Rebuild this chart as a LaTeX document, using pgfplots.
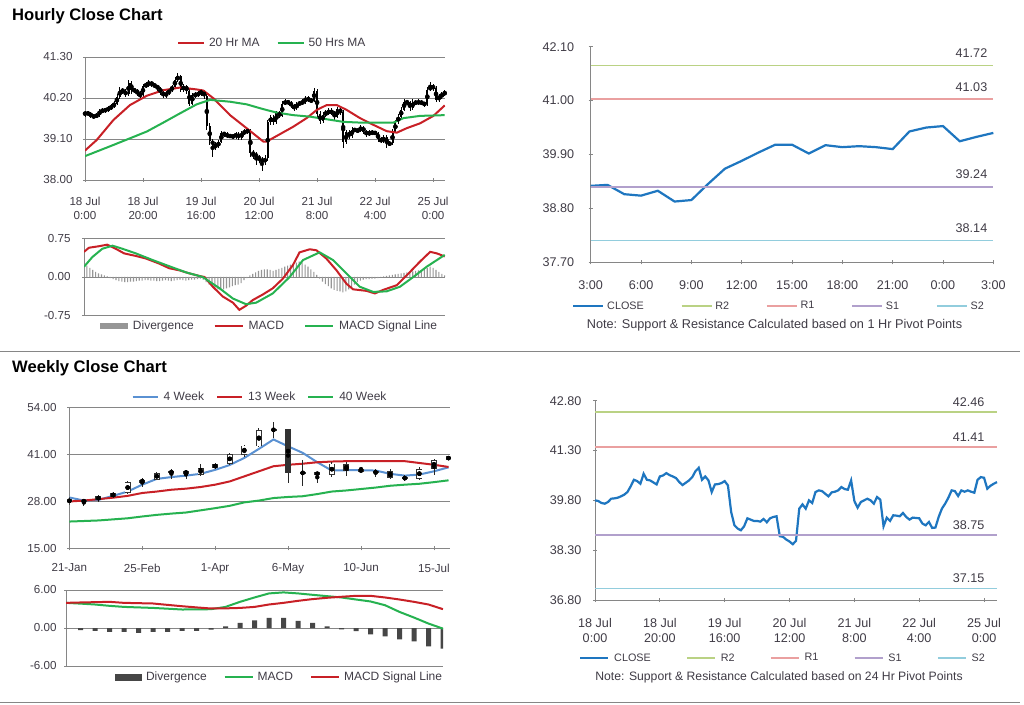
\documentclass[border=0pt]{standalone}
\usepackage{fontspec}
\setmainfont{Liberation Sans}
\usepackage{pgfplots}
\usepackage{pgfplotstable}
\pgfplotsset{compat=1.18}

\definecolor{axgray}{RGB}{134,134,134}
\definecolor{lblgray}{RGB}{64,60,70}
\definecolor{mared}{RGB}{200,32,38}
\definecolor{magreen}{RGB}{38,178,80}
\definecolor{closeblue}{RGB}{30,118,192}
\definecolor{rtwo}{RGB}{186,210,132}
\definecolor{rone}{RGB}{234,160,160}
\definecolor{sone}{RGB}{177,160,204}
\definecolor{stwo}{RGB}{146,205,221}
\definecolor{wkblue}{RGB}{90,145,210}
\definecolor{divgray}{RGB}{150,150,150}
\definecolor{divdark}{RGB}{70,70,70}
\definecolor{candark}{RGB}{50,50,50}

\newcommand{\labL}{\fontsize{11.6}{14}\selectfont}
\newcommand{\labR}{\fontsize{12.6}{15}\selectfont}
\newcommand{\legL}{\fontsize{12}{14}\selectfont}
\newcommand{\legR}{\fontsize{10.8}{13}\selectfont}

\pgfplotsset{
  base/.style={scale only axis, anchor=south west, enlargelimits=false,
    axis line style={axgray,-,line width=0.7pt},
    tick style={axgray,line width=0.7pt}, major tick length=4pt, tick align=outside,
    tick label style={font=\labL, text=lblgray},
    grid style={axgray,line width=0.7pt},
    legend style={draw=none, fill=none, font=\legL, text=lblgray, inner sep=0pt, outer sep=0pt,
      nodes={inner sep=0pt, outer sep=0pt}, legend cell align=left},
    legend columns=-1},
}

% hourly candles: i open high low close
\pgfplotstableread{
i o h l c
0 39.76 39.86 39.70 39.80
1 39.80 39.85 39.72 39.78
2 39.78 39.82 39.66 39.72
3 39.72 39.76 39.64 39.70
4 39.70 39.80 39.65 39.75
5 39.75 39.90 39.70 39.85
6 39.85 39.92 39.80 39.86
7 39.86 39.94 39.81 39.88
8 39.88 39.98 39.83 39.92
9 39.92 40.03 39.87 39.97
10 39.97 40.12 39.92 40.05
11 40.05 40.30 40.00 40.22
12 40.22 40.50 40.17 40.42
13 40.42 40.47 40.30 40.38
14 40.38 40.44 40.22 40.30
15 40.30 40.68 40.25 40.60
16 40.60 40.65 40.30 40.42
17 40.42 40.48 40.33 40.40
18 40.40 40.45 40.25 40.34
19 40.34 40.40 40.15 40.28
20 40.28 40.58 40.24 40.52
21 40.52 40.62 40.47 40.55
22 40.55 40.68 40.50 40.62
23 40.62 40.66 40.50 40.56
24 40.56 40.60 40.46 40.52
25 40.52 40.56 40.40 40.47
26 40.47 40.50 40.28 40.35
27 40.35 40.40 40.20 40.26
28 40.26 40.38 40.21 40.33
29 40.33 40.46 40.28 40.40
30 40.40 40.56 40.36 40.50
31 40.50 40.75 40.46 40.68
32 40.68 40.86 40.62 40.78
33 40.78 40.82 40.35 40.42
34 40.42 40.58 40.36 40.52
35 40.52 40.56 40.32 40.40
36 40.40 40.44 39.98 40.05
37 40.05 40.34 40.00 40.28
38 40.28 40.35 40.20 40.29
39 40.29 40.38 40.22 40.32
40 40.32 40.44 40.26 40.38
41 40.38 40.42 40.18 40.25
42 40.25 40.30 39.35 39.45
43 39.45 39.52 38.95 39.05
44 39.05 39.10 38.62 38.95
45 38.95 39.02 38.80 38.90
46 38.90 39.08 38.85 39.02
47 39.02 39.32 38.98 39.26
48 39.26 39.30 39.15 39.22
49 39.22 39.28 39.12 39.18
50 39.18 39.24 39.12 39.18
51 39.18 39.23 39.10 39.16
52 39.16 39.30 39.10 39.24
53 39.24 39.28 39.08 39.14
54 39.14 39.32 39.08 39.26
55 39.26 39.36 39.20 39.30
56 39.30 39.38 39.24 39.32
57 39.32 39.36 38.62 38.72
58 38.72 38.80 38.55 38.70
59 38.70 38.76 38.40 38.62
60 38.62 38.68 38.45 38.56
61 38.56 38.62 38.25 38.48
62 38.48 38.66 38.40 38.58
63 38.58 39.62 38.52 39.55
64 39.55 39.75 39.48 39.68
65 39.68 39.74 39.48 39.55
66 39.55 39.86 39.50 39.80
67 39.80 39.86 39.65 39.72
68 39.72 40.12 39.68 40.05
69 40.05 40.16 40.00 40.10
70 40.10 40.15 40.02 40.08
71 40.08 40.12 39.94 40.00
72 40.00 40.05 39.86 39.92
73 39.92 40.10 39.88 40.04
74 40.04 40.12 39.99 40.06
75 40.06 40.16 40.01 40.10
76 40.10 40.26 40.05 40.20
77 40.20 40.25 40.08 40.14
78 40.14 40.20 40.06 40.12
79 40.12 40.46 40.08 40.40
80 40.40 40.44 39.70 39.78
81 39.78 39.84 39.50 39.58
82 39.58 39.82 39.52 39.75
83 39.75 39.88 39.70 39.80
84 39.80 39.92 39.74 39.85
85 39.85 39.92 39.74 39.80
86 39.80 39.85 39.62 39.70
87 39.70 39.96 39.65 39.90
88 39.90 39.95 39.75 39.82
89 39.82 39.88 38.85 39.02
90 39.02 39.34 38.96 39.28
91 39.28 39.33 39.10 39.18
92 39.18 39.42 39.12 39.35
93 39.35 39.40 39.28 39.34
94 39.34 39.38 39.26 39.32
95 39.32 39.48 39.28 39.42
96 39.42 39.46 39.24 39.30
97 39.30 39.35 39.16 39.22
98 39.22 39.34 39.17 39.28
99 39.28 39.33 39.20 39.27
100 39.27 39.32 39.20 39.26
101 39.26 39.30 39.03 39.10
102 39.10 39.15 38.98 39.05
103 39.05 39.20 38.98 39.15
104 39.15 39.20 38.85 38.97
105 38.97 39.05 38.90 38.98
106 38.98 39.36 38.93 39.30
107 39.30 39.62 39.25 39.55
108 39.55 39.78 39.50 39.70
109 39.70 39.95 39.64 39.88
110 39.88 40.16 39.84 40.10
111 40.10 40.15 40.00 40.08
112 40.08 40.12 39.86 39.93
113 39.93 40.16 39.88 40.10
114 40.10 40.14 40.00 40.06
115 40.06 40.16 40.01 40.10
116 40.10 40.14 40.00 40.06
117 40.06 40.10 39.97 40.03
118 40.03 40.50 39.98 40.42
119 40.42 40.62 40.38 40.50
120 40.50 40.58 40.40 40.48
121 40.48 40.52 40.08 40.15
122 40.15 40.32 40.10 40.24
123 40.24 40.36 40.18 40.30
124 40.30 40.42 40.25 40.35
}\hourly

\pgfplotstableread{
x v
0 38.79
4 39.07
9.8 39.61
15.5 40.01
21.3 40.26
27 40.41
32.8 40.48
38.5 40.43
40.8 40.40
44.3 40.19
50 39.74
55.7 39.39
61.5 39.03
62.6 39.03
67.2 39.23
71.8 39.43
76.4 39.66
79.9 39.88
83.3 40.01
86.8 40.01
90.2 39.88
94.8 39.66
99.4 39.48
104 39.31
107.5 39.27
110.9 39.39
115.5 39.52
120.1 39.72
124 40.00
}\hmaA

\pgfplotstableread{
x v
0 38.64
9.8 38.94
21.3 39.30
27 39.54
32.8 39.79
38.5 40.03
43.1 40.15
50 40.10
55.7 40.03
61.5 39.90
66 39.81
71.8 39.74
77.5 39.70
83.3 39.63
89 39.56
94.8 39.54
100.5 39.54
106.3 39.54
109.8 39.66
115.5 39.72
124 39.74
}\hmaB

\pgfplotstableread{
x v
0 0.49
1.7 0.57
5.2 0.60
8 0.63
10.9 0.55
13.8 0.46
17.8 0.41
21.3 0.36
25.9 0.26
29.3 0.17
32.8 0.13
36.2 0.07
39.7 0.02
41.4 0.00
44.3 -0.19
47.7 -0.38
51.2 -0.50
53.4 -0.64
55.7 -0.56
58 -0.45
61.5 -0.34
64.9 -0.22
68.4 -0.03
71.8 0.23
74.1 0.48
77.6 0.54
79.9 0.52
83.3 0.36
86.8 0.13
90.2 -0.13
92.5 -0.24
97.1 -0.27
100 -0.32
102.9 -0.25
107.5 -0.16
112.1 0.10
115.5 0.30
119 0.49
121.3 0.46
124 0.40
}\hmacd

\pgfplotstableread{
x v
0 0.20
2.9 0.39
6.3 0.55
9.8 0.61
13.2 0.55
17.8 0.46
23.6 0.33
29.3 0.21
35.1 0.09
40.8 0.00
46.6 -0.22
51.2 -0.42
55.7 -0.53
59.2 -0.50
64.9 -0.32
70.7 0.00
75.3 0.33
81 0.48
85.6 0.33
90.2 0.07
94.8 -0.19
99.4 -0.29
104 -0.28
108.6 -0.19
113.2 0.00
117.8 0.20
124 0.43
}\hsig

\pgfplotstableread[row sep=\\]{
i d\\ 0 0.25\\ 1 0.22\\ 2 0.18\\ 3 0.14\\ 4 0.10\\ 5 0.07\\ 6 0.05\\ 7 0.03\\ 8 0.01\\ 9 -0.02\\
10 -0.04\\ 11 -0.06\\ 12 -0.08\\ 13 -0.09\\ 14 -0.10\\ 15 -0.10\\ 16 -0.09\\ 17 -0.09\\ 18 -0.08\\ 19 -0.07\\
20 -0.07\\ 21 -0.06\\ 22 -0.06\\ 23 -0.07\\ 24 -0.07\\ 25 -0.08\\ 26 -0.08\\ 27 -0.07\\ 28 -0.06\\ 29 -0.07\\
30 -0.08\\ 31 -0.07\\ 32 -0.06\\ 33 -0.05\\ 34 -0.06\\ 35 -0.07\\ 36 -0.06\\ 37 -0.05\\ 38 -0.05\\ 39 -0.04\\
40 -0.03\\ 41 -0.05\\ 42 -0.10\\ 43 -0.15\\ 44 -0.19\\ 45 -0.22\\ 46 -0.24\\ 47 -0.25\\ 48 -0.24\\ 49 -0.22\\
50 -0.20\\ 51 -0.18\\ 52 -0.16\\ 53 -0.15\\ 54 -0.12\\ 55 -0.06\\ 56 -0.02\\ 57 0.03\\ 58 0.06\\ 59 0.09\\
60 0.12\\ 61 0.14\\ 62 0.15\\ 63 0.15\\ 64 0.14\\ 65 0.12\\ 66 0.14\\ 67 0.16\\ 68 0.18\\ 69 0.20\\
70 0.22\\ 71 0.24\\ 72 0.26\\ 73 0.28\\ 74 0.30\\ 75 0.28\\ 76 0.24\\ 77 0.20\\ 78 0.15\\ 79 0.10\\
80 0.04\\ 81 -0.03\\ 82 -0.09\\ 83 -0.14\\ 84 -0.18\\ 85 -0.22\\ 86 -0.25\\ 87 -0.27\\ 88 -0.28\\ 89 -0.30\\
90 -0.28\\ 91 -0.24\\ 92 -0.20\\ 93 -0.15\\ 94 -0.10\\ 95 -0.07\\ 96 -0.05\\ 97 -0.04\\ 98 -0.04\\ 99 -0.03\\
100 -0.03\\ 101 -0.02\\ 102 0.00\\ 103 0.01\\ 104 0.02\\ 105 0.03\\ 106 0.04\\ 107 0.05\\ 108 0.06\\ 109 0.07\\
110 0.08\\ 111 0.09\\ 112 0.10\\ 113 0.11\\ 114 0.12\\ 115 0.13\\ 116 0.14\\ 117 0.16\\ 118 0.18\\ 119 0.20\\
120 0.18\\ 121 0.14\\ 122 0.10\\ 123 0.06\\ 124 0.03\\
}\hdiv

\pgfplotstableread{
w ma4 ma13 ma40
0 29.06 27.95 22.40
1 28.20 28.20 22.55
2 28.40 28.60 22.70
3 29.50 29.00 23.00
4 30.70 29.50 23.30
5 32.60 30.30 23.80
6 34.20 30.70 24.25
7 34.70 31.20 24.60
8 35.10 31.50 24.90
9 35.60 31.95 25.50
10 36.70 32.60 26.10
11 38.05 33.50 26.75
12 40.00 34.90 27.70
13 42.50 36.30 28.20
14 45.10 37.70 28.90
15 43.20 38.10 29.20
16 41.40 38.40 29.40
17 38.80 38.80 30.00
18 36.50 39.00 30.70
19 36.60 39.10 31.00
20 36.60 39.10 31.40
21 36.50 39.10 31.80
22 35.60 39.10 32.30
23 35.10 39.10 32.60
24 35.40 38.60 32.85
25 36.30 38.10 33.30
26 37.40 37.50 33.80
}\weekly

% weekly candles: week, low, high, body low, body high, up(1)/down(0)
\pgfplotstableread{
w lo hi bl bh up
0 27.1 29.1 27.7 28.6 0
1 26.75 28.6 27.7 28.4 1
2 27.9 29.8 28.4 29.35 1
3 29.0 30.5 29.2 30.3 1
4 30.1 33.5 30.3 33.3 1
5 32.0 34.4 33.2 34.0 1
6 33.8 36.1 34.0 35.8 1
7 34.3 37.0 35.9 36.3 0
8 34.3 36.6 35.7 36.3 0
9 35.1 38.2 35.3 37.2 1
10 36.8 38.6 37.2 38.3 1
11 38.1 41.4 38.4 41.1 1
12 40.2 43.7 40.9 43.4 1
13 42.9 48.3 43.2 47.6 1
14 45.6 50.0 47.4 48.1 1
15 33.2 48.1 35.8 48.0 0
16 32.3 39.5 35.6 36.1 0
17 33.2 36.1 35.4 35.9 0
18 34.8 38.9 35.4 38.4 1
19 35.0 39.0 36.5 38.3 0
20 36.2 37.6 36.4 36.6 0
21 34.8 37.0 35.8 36.3 0
22 34.2 37.0 34.4 36.3 0
23 33.6 35.2 34.1 34.7 0
24 34.0 37.4 34.2 37.0 1
25 35.4 39.7 37.0 39.5 1
26 39.4 40.5 39.5 40.4 1
}\wcandle

\pgfplotstableread{
k m s d
0 3.97 3.97 0
1 3.85 4.03 -0.35
2 3.71 4.08 -0.45
3 3.50 4.13 -0.60
4 3.33 3.97 -0.60
5 3.25 3.92 -0.75
6 3.17 3.87 -0.60
7 3.05 3.65 -0.60
8 2.92 3.44 -0.45
9 2.93 3.25 -0.45
10 2.97 3.08 -0.25
11 3.33 3.10 0.25
12 4.13 3.17 0.80
13 4.82 3.33 1.22
14 5.46 3.71 1.59
15 5.62 3.97 1.59
16 5.46 4.29 1.11
17 5.24 4.56 0.80
18 5.03 4.77 0.26
19 4.82 4.93 -0.20
20 4.50 5.08 -0.50
21 4.19 5.08 -1.00
22 3.60 4.82 -1.32
23 2.54 4.50 -1.80
24 1.65 4.13 -2.10
25 0.70 3.71 -2.90
26 -0.10 2.97 -3.27
}\wmacd

\begin{document}
\begin{tikzpicture}[x=1pt,y=1pt]
\fill[white] (0pt,0pt) rectangle (1024pt,704pt);
\path[use as bounding box] (0pt,0pt) rectangle (1024pt,704pt);

% ---------- Panel A: hourly candles ----------
\begin{axis}[base, at={(85pt,524pt)}, width=360pt, height=123pt,
  xmin=0, xmax=124.1, ymin=38, ymax=41.3,
  axis lines=left, axis line style={-},
  ytick={38,39.1,40.2,41.3}, yticklabels={38.00,39.10,40.20,41.30},
  yticklabel style={xshift=-7pt},
  xtick={0,20,...,120},
  xticklabels={{18 Jul\\0:00},{18 Jul\\20:00},{19 Jul\\16:00},{20 Jul\\12:00},{21 Jul\\8:00},{22 Jul\\4:00},{25 Jul\\0:00}},
  xticklabel style={align=center, yshift=-11.5pt},
  ymajorgrids,
  legend style={at={(0.2556,1.1138)}, anchor=west, column sep=4pt,
    /tikz/every even column/.append style={column sep=17pt}},
  legend image code/.code={\draw[#1] (0pt,0pt) -- (26pt,0pt);},
]
\addplot[only marks, mark=none, forget plot, error bars/.cd, y dir=both, y explicit,
  error mark=none, error bar style={draw=black, line width=0.7pt}]
  table[x=i, y expr={(\thisrow{h}+\thisrow{l})/2}, y error expr={(\thisrow{h}-\thisrow{l})/2}] {\hourly};
\addplot[only marks, mark=none, forget plot, error bars/.cd, y dir=both, y explicit,
  error mark=none, error bar style={draw=black, line width=2pt}]
  table[x=i, y expr={(\thisrow{o}+\thisrow{c})/2}, y error expr={abs(\thisrow{o}-\thisrow{c})/2}] {\hourly};
\addplot[mared, line width=2pt] table[x=x,y=v] {\hmaA};
\addlegendentry{20 Hr MA}
\addplot[magreen, line width=2pt] table[x=x,y=v] {\hmaB};
\addlegendentry{50 Hrs MA}
\end{axis}

% ---------- Panel A2: hourly MACD ----------
\begin{axis}[base, at={(84pt,388.5pt)}, width=361pt, height=77pt,
  xmin=0, xmax=124.1, ymin=-0.75, ymax=0.75,
  axis y line=left, axis x line=none, axis line style={-},
  ytick={-0.75,0,0.75}, yticklabels={-0.75,0.00,0.75},
  yticklabel style={xshift=-8pt},
  xtick=\empty, ymajorgrids,
  legend style={at={(0.0443,-0.136)}, anchor=west, column sep=5pt,
    /tikz/every even column/.append style={column sep=20pt}},
  legend image code/.code={\draw[#1] (0pt,0pt) -- (28pt,0pt);},
]
\addplot[ybar, bar width=1.1pt, fill=divgray, draw=none,
  legend image code/.code={\fill[divgray] (0pt,-3pt) rectangle (28pt,3pt);}]
  table[x=i,y=d] {\hdiv};
\addlegendentry{Divergence}
\addplot[mared, line width=2pt] table[x=x,y=v] {\hmacd};
\addlegendentry{MACD}
\addplot[magreen, line width=2pt] table[x=x,y=v] {\hsig};
\addlegendentry{MACD Signal Line}
\end{axis}

% ---------- Panel B: 1 Hr pivot ----------
\begin{axis}[base, at={(590.7pt,441.7pt)}, width=402.6pt, height=215.6pt,
  xmin=0, xmax=24, ymin=37.7, ymax=42.1, clip=false,
  axis lines=left, axis line style={-},
  tick label style={font=\labR},
  xtick={0,3,...,24}, xticklabels={3:00,6:00,9:00,12:00,15:00,18:00,21:00,0:00,3:00},
  xticklabel style={yshift=-13pt},
  ytick={37.7,38.8,39.9,41,42.1}, yticklabels={37.70,38.80,39.90,41.00,42.10},
  yticklabel style={xshift=-11pt},
  legend style={font=\legR, at={(-0.0464,-0.2027)}, anchor=west, column sep=3pt,
    /tikz/every even column/.append style={column sep=37pt}},
  legend image code/.code={\draw[#1] (0pt,0pt) -- (30pt,0pt);},
]
\addplot[closeblue, line width=2.2pt] coordinates {
(0,39.26) (1,39.28) (2,39.09) (3,39.06) (4,39.16) (5,38.94) (6,38.97) (7,39.30)
(8,39.61) (9,39.77) (10,39.94) (11,40.10) (12,40.10) (13,39.92) (14,40.09) (15,40.05)
(16,40.07) (17,40.05) (18,40.01) (19,40.37) (20,40.45) (21,40.48) (22,40.17) (23,40.26) (24,40.34)};
\addlegendentry{CLOSE}
\addplot[rtwo, line width=1.5pt] coordinates {(0,41.72) (24,41.72)};
\addlegendentry{R2}
\addplot[rone, line width=1.5pt] coordinates {(0,41.03) (24,41.03)};
\addlegendentry{R1}
\addplot[sone, line width=1.5pt] coordinates {(0,39.24) (24,39.24)};
\addlegendentry{S1}
\addplot[stwo, line width=1.5pt] coordinates {(0,38.14) (24,38.14)};
\addlegendentry{S2}
\node[font=\labR, text=lblgray, anchor=base east, yshift=8pt] at (axis cs:23.85,41.72) {41.72};
\node[font=\labR, text=lblgray, anchor=base east, yshift=8pt] at (axis cs:23.85,41.03) {41.03};
\node[font=\labR, text=lblgray, anchor=base east, yshift=8pt] at (axis cs:23.85,39.24) {39.24};
\node[font=\labR, text=lblgray, anchor=base east, yshift=8pt] at (axis cs:23.85,38.14) {38.14};
\end{axis}

% ---------- Panel C: weekly candles ----------
\begin{axis}[base, at={(69.3pt,155.7pt)}, width=380.7pt, height=141pt,
  xmin=0, xmax=26.1, ymin=15, ymax=54,
  axis lines=left, axis line style={-},
  xtick={0,5,...,25}, xticklabels={21-Jan,25-Feb,1-Apr,6-May,10-Jun,15-Jul},
  xticklabel style={yshift=-10pt},
  ytick={15,28,41,54}, yticklabels={15.00,28.00,41.00,54.00},
  yticklabel style={xshift=-7.3pt},
  ymajorgrids,
  legend style={at={(0.1639,1.075)}, anchor=west, column sep=5pt,
    /tikz/every even column/.append style={column sep=12pt}},
  legend image code/.code={\draw[#1] (0pt,0pt) -- (25pt,0pt);},
]
\addplot[wkblue, line width=2pt] table[x=w,y=ma4] {\weekly};
\addlegendentry{4 Week}
\addplot[mared, line width=2pt] table[x=w,y=ma13] {\weekly};
\addlegendentry{13 Week}
\addplot[magreen, line width=2pt] table[x=w,y=ma40] {\weekly};
\addlegendentry{40 Week}
% wicks
\addplot[only marks, mark=none, forget plot, error bars/.cd, y dir=both, y explicit,
  error mark=none, error bar style={draw=black!85, line width=0.9pt}]
  table[x=w, y expr={(\thisrow{lo}+\thisrow{hi})/2}, y error expr={(\thisrow{hi}-\thisrow{lo})/2}] {\wcandle};
% bodies
\addplot[only marks, mark=none, forget plot, error bars/.cd, y dir=both, y explicit,
  error mark=none, error bar style={draw=candark, line width=6pt}]
  table[x=w, y expr={(\thisrow{bl}+\thisrow{bh})/2}, y error expr={max((\thisrow{bh}-\thisrow{bl})/2,0.35)}] {\wcandle};
% hollow interiors of rising candles
\addplot[only marks, mark=none, forget plot, error bars/.cd, y dir=both, y explicit,
  error mark=none, error bar style={draw=white, line width=4.4pt}]
  table[x=w, y expr={(\thisrow{bl}+\thisrow{bh})/2}, y error expr={\thisrow{up}*max((\thisrow{bh}-\thisrow{bl})/2-0.22,0)}] {\wcandle};
\end{axis}

% ---------- Panel C2: weekly MACD ----------
\begin{axis}[base, at={(66pt,38pt)}, width=377pt, height=76pt,
  xmin=0, xmax=26, ymin=-6, ymax=6,
  axis y line=left, axis x line=none, axis line style={-},
  ytick={-6,0,6}, yticklabels={-6.00,0.00,6.00},
  yticklabel style={xshift=-4pt},
  xtick=\empty, ymajorgrids,
  legend style={at={(0.13,-0.145)}, anchor=west, column sep=4pt,
    /tikz/every even column/.append style={column sep=17pt}},
  legend image code/.code={\draw[#1] (0pt,0pt) -- (28pt,0pt);},
]
\addplot[ybar, bar width=5pt, fill=divdark, draw=none,
  legend image code/.code={\fill[divdark] (0pt,-3.5pt) rectangle (27pt,3.5pt);}]
  table[x=k,y=d] {\wmacd};
\addlegendentry{Divergence}
\addplot[magreen, line width=2pt] table[x=k,y=m] {\wmacd};
\addlegendentry{MACD}
\addplot[mared, line width=2pt] table[x=k,y=s] {\wmacd};
\addlegendentry{MACD Signal Line}
\end{axis}

% ---------- Panel D: 24 Hr pivot ----------
\begin{axis}[base, at={(595pt,104pt)}, width=402pt, height=199.3pt,
  xmin=0, xmax=124, ymin=36.8, ymax=42.8, clip=false,
  axis lines=left, axis line style={-},
  tick label style={font=\labR},
  xtick={0,20,...,120},
  xticklabels={{18 Jul\\0:00},{18 Jul\\20:00},{19 Jul\\16:00},{20 Jul\\12:00},{21 Jul\\8:00},{22 Jul\\4:00},{25 Jul\\0:00}},
  xticklabel style={align=center, yshift=-13pt},
  ytick={36.8,38.3,39.8,41.3,42.8}, yticklabels={36.80,38.30,39.80,41.30,42.80},
  yticklabel style={xshift=-8pt},
  legend style={font=\legR, at={(-0.0398,-0.291)}, anchor=west, column sep=5pt,
    /tikz/every even column/.append style={column sep=35.5pt}},
  legend image code/.code={\draw[#1] (0pt,0pt) -- (28pt,0pt);},
]
\addplot[closeblue, line width=2.2pt] table[x=i,y=c] {\hourly};
\addlegendentry{CLOSE}
\addplot[rtwo, line width=1.5pt] coordinates {(0,42.46) (124,42.46)};
\addlegendentry{R2}
\addplot[rone, line width=1.5pt] coordinates {(0,41.41) (124,41.41)};
\addlegendentry{R1}
\addplot[sone, line width=1.5pt] coordinates {(0,38.75) (124,38.75)};
\addlegendentry{S1}
\addplot[stwo, line width=1.5pt] coordinates {(0,37.15) (124,37.15)};
\addlegendentry{S2}
\node[font=\labR, text=lblgray, anchor=base east, yshift=5.5pt] at (axis cs:121.2,42.46) {42.46};
\node[font=\labR, text=lblgray, anchor=base east, yshift=5.5pt] at (axis cs:121.2,41.41) {41.41};
\node[font=\labR, text=lblgray, anchor=base east, yshift=5.5pt] at (axis cs:121.2,38.75) {38.75};
\node[font=\labR, text=lblgray, anchor=base east, yshift=5.5pt] at (axis cs:121.2,37.15) {37.15};
\end{axis}

% ---------- titles, notes, separators ----------
\node[anchor=west, inner sep=0pt, font=\bfseries\fontsize{16.6}{18}\selectfont] at (12pt,688pt) {Hourly Close Chart};
\node[anchor=west, inner sep=0pt, font=\bfseries\fontsize{16.6}{18}\selectfont] at (12pt,336pt) {Weekly Close Chart};
\node[font=\fontsize{12.7}{14}\selectfont, text=lblgray] at (774.5pt,379pt) {Note: Support \& Resistance Calculated based on 1 Hr Pivot Points};
\node[font=\fontsize{12.2}{14}\selectfont, text=lblgray] at (779pt,26.3pt) {Note: Support \& Resistance Calculated based on 24 Hr Pivot Points};
\draw[axgray, line width=1pt] (0pt,352pt) -- (1020pt,352pt);
\draw[axgray, line width=1pt] (0pt,2pt) -- (1020pt,2pt);
\end{tikzpicture}
\end{document}
